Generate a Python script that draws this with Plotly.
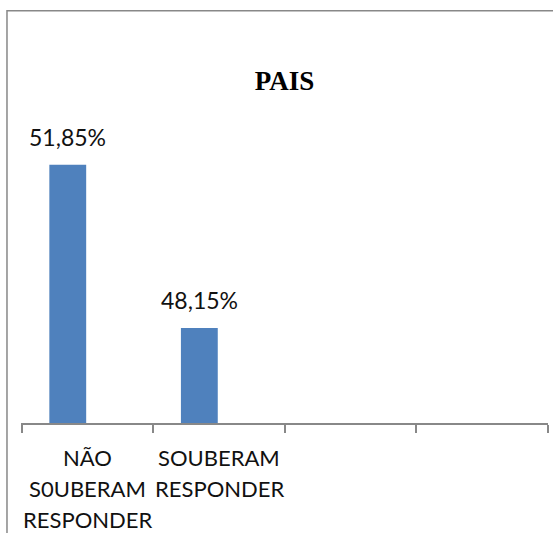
import plotly.graph_objects as go

categories = ["NÃO S0UBERAM RESPONDER", "SOUBERAM RESPONDER", " ", "  "]
category_lines = [["NÃO", "S0UBERAM", "RESPONDER"], ["SOUBERAM", "RESPONDER"], [], []]
values = [51.85, 48.15, None, None]
labels = ["51,85%", "48,15%"]

bar_offset = -0.29
bar_width = 0.28

fig = go.Figure()
fig.add_trace(go.Bar(
    x=categories, y=values,
    offset=bar_offset, width=bar_width,
    marker=dict(color="#4F81BD", line=dict(width=0)),
    hoverinfo="skip",
))

# data labels above the bars
for i, (v, t) in enumerate(zip(values, labels)):
    fig.add_annotation(
        x=i + bar_offset + bar_width / 2, y=v, text=t,
        showarrow=False, yanchor="bottom", yshift=12,
        font=dict(family="Lato", size=23, color="#111"),
    )

# category labels, one line each (wider line spacing than plotly's tick labels)
for i, lines in enumerate(category_lines):
    for j, line in enumerate(lines):
        fig.add_annotation(
            x=i, y=0, yref="paper", text=line,
            showarrow=False, yanchor="top", yshift=-19 - 31 * j,
            font=dict(family="Lato", size=22, color="#111"),
        )

# outer chart frame
fig.add_shape(type="rect", xref="paper", yref="paper",
              x0=-0.0266, x1=1.03, y0=-0.4, y1=1.334,
              line=dict(color="#888", width=1.5), layer="below")

fig.update_layout(
    width=553, height=533,
    margin=dict(l=21, r=5, t=114, b=110, autoexpand=False),
    paper_bgcolor="white", plot_bgcolor="white",
    showlegend=False,
    title=dict(text="<b>PAIS</b>", x=0.5, xref="paper", y=0.848, yref="container",
               yanchor="middle", xanchor="center",
               font=dict(family="Liberation Serif", size=27, color="black")),
    xaxis=dict(showline=True, linecolor="#888", linewidth=1.5,
               ticks="outside", ticklen=8, tickcolor="#888", tickwidth=1.5,
               tickson="boundaries", showgrid=False, showticklabels=False,
               automargin=False),
    yaxis=dict(range=[46, 53], visible=False, showgrid=False, zeroline=False,
               automargin=False),
)

fig.write_html("out.html", config={"displayModeBar": False},
               post_script="document.body.style.margin='0';")
